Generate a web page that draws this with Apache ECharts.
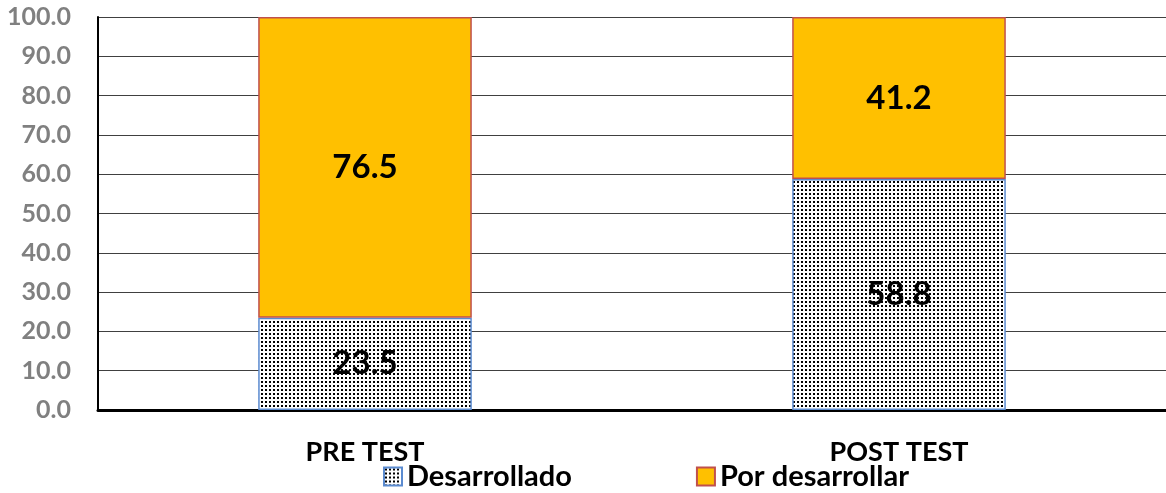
<!DOCTYPE html>
<html>
<head>
<meta charset="utf-8">
<script src="https://cdn.jsdelivr.net/npm/echarts@6/dist/echarts.min.js"></script>
<style>
  html, body { margin: 0; padding: 0; background: #fff; }
  #viz { width: 1166px; height: 493px; }
</style>
</head>
<body>
<div id="viz"></div>
<script>
// data
var categories = ['PRE TEST', 'POST TEST'];
var desarrollado = [23.5, 58.8];
var porDesarrollar = [76.5, 41.2];
var yTicks = [0, 10, 20, 30, 40, 50, 60, 70, 80, 90, 100];

/* dotted fill like the excel pattern */
function dotPattern(){
  var c = document.createElement('canvas');
  c.width = 4; c.height = 4;
  var ctx = c.getContext('2d');
  ctx.fillStyle = '#fff';
  ctx.fillRect(0, 0, 4, 4);
  ctx.fillStyle = '#000';
  ctx.fillRect(1, 1, 2, 2);
  return c;
}

var font = 'Lato, "Open Sans", sans-serif';
var dom = document.getElementById('viz');
var myChart = echarts.init(dom);

var option = {
  animation: false,
  grid: { left: 98, right: -4, top: 17, bottom: 83 },
  legend: {
    bottom: -3,
    left: 378,
    icon: 'rect',
    itemWidth: 18,
    itemHeight: 18,
    itemGap: 124,
    textStyle: { fontFamily: font, fontWeight: 'bold', fontSize: 29, color: '#000' },
    data: ['Desarrollado', 'Por desarrollar']
  },
  xAxis: {
    type: 'category',
    data: categories,
    axisLine: { lineStyle: { color: '#000', width: 3 } },
    axisTick: { show: false },
    axisLabel: { margin: 29, fontFamily: font, fontWeight: 'bold', fontSize: 27, color: '#000' }
  },
  yAxis: {
    type: 'value',
    min: yTicks[0],
    max: yTicks[yTicks.length - 1],
    interval: 10,
    axisLine: { show: true, lineStyle: { color: '#000', width: 2 } },
    axisTick: { show: false },
    axisLabel: {
      margin: 27,
      fontFamily: font, fontWeight: 'bold', fontSize: 25, color: '#808080',
      formatter: function(v){ return v.toFixed(1); }
    },
    splitLine: { lineStyle: { color: '#404040', width: 1 } }
  },
  series: [{
    name: 'Desarrollado',
    type: 'bar',
    stack: 'total',
    barWidth: '40%',
    itemStyle: {
      color: { image: dotPattern(), repeat: 'repeat' },
      borderColor: '#5B8BD0',
      borderWidth: 1.5
    },
    label: {
      show: true, position: 'inside',
      fontFamily: font, fontWeight: 'bold', fontSize: 33, color: '#000',
      formatter: function(p){ return p.value.toFixed(1); }
    },
    data: desarrollado
  }, {
    name: 'Por desarrollar',
    type: 'bar',
    stack: 'total',
    itemStyle: {
      color: '#FFC000',
      borderColor: '#C0504D',
      borderWidth: 1.5
    },
    label: {
      show: true, position: 'inside',
      fontFamily: font, fontWeight: 'bold', fontSize: 33, color: '#000',
      formatter: function(p){ return p.value.toFixed(1); }
    },
    data: porDesarrollar
  }]
};
if (option && typeof option === "object") {
  myChart.setOption(option, true);
}
</script>
</body>
</html>
